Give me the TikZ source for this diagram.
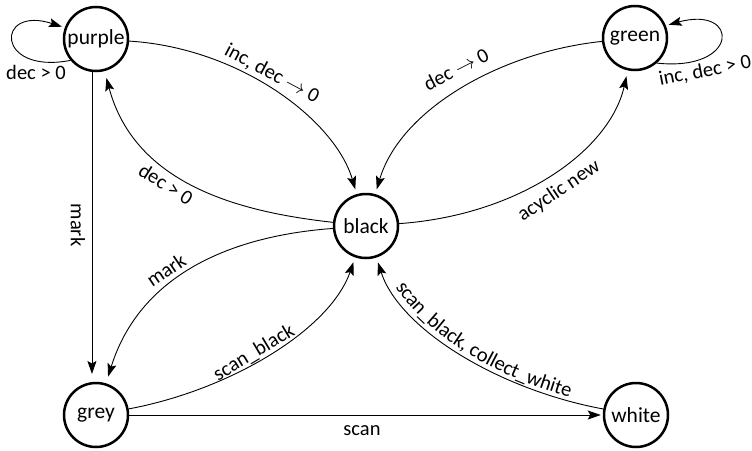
\documentclass[tikz,border=0pt]{standalone}
\usepackage{fontspec}
\setmainfont{Carlito}
\usetikzlibrary{arrows.meta,decorations.text}
\newcommand\nodefont{\fontsize{21.5}{25}\selectfont}
\newcommand\lblfont{\fontsize{20.5}{24}\selectfont}
\tikzset{
  mytip/.tip={Stealth[length=13pt,width=9pt,inset=2.5pt]},
  state/.style={circle,draw,line width=2.5pt,minimum size=64pt,inner sep=0pt,font=\nodefont},
  edge/.style={line width=0.9pt,-mytip,shorten >=5pt},
  redge/.style={line width=0.9pt,mytip-,shorten <=5pt},
  lbl/.style={font=\lblfont,inner sep=0pt}
}
\begin{document}
\begin{tikzpicture}[x=1pt,y=-1pt]
\useasboundingbox (0,0) rectangle (752,450);
\node[state] (purple) at (96,39) {purple};
\node[state] (green) at (635,38) {green};
\node[state] (black) at (366,226) {black};
\node[state] (grey) at (96,415) {grey};
\node[state] (white) at (636,415) {white};

% self loops
\draw[edge,shorten >=3pt] (purple.-140) .. controls (-5,75) and (-5,5) .. (purple.160);
\draw[edge,shorten >=3pt] (green.-49) .. controls (740,72) and (740,5) .. (green.22);

% curved edges
\draw[edge] (purple) .. controls (240,48) and (335,120) .. (black);
\draw[edge,shorten >=7pt] (black) .. controls (240,212) and (135,185) .. (purple);
\draw[edge] (green) .. controls (500,52) and (400,110) .. (black);
\draw[edge,shorten >=6pt] (black) .. controls (520,215) and (610,150) .. (green);
\draw[edge,shorten >=7pt] (black) .. controls (230,236) and (140,275) .. (grey);
\draw[edge] (grey) .. controls (230,390) and (330,330) .. (black);
\draw[redge,postaction={decorate},
  decoration={text along path,text align=center,raise=4pt,
  text={|\lblfont|scan{\_}black, collect{\_}white}}]
  (black) .. controls (400,330) and (500,390) .. (white);

% straight edges
\draw[edge,shorten >=8pt] (purple.263) -- (grey.97);
\draw[edge,shorten >=2pt] (grey) -- (white);

% labels
\node[lbl] (l1) at (36,72) {dec > 0};
\node[lbl,rotate=11] (l2) at (705,71) {inc, dec > 0};
\node[lbl,rotate=-28] (l3) at (272,74) {inc, dec $\rightarrow$ 0};
\node[lbl,rotate=-32] (l4) at (166,184) {dec > 0};
\node[lbl,rotate=27] (l5) at (456,69) {dec $\rightarrow$ 0};
\node[lbl,rotate=34] (l6) at (559,191) {acyclic new};
\node[lbl,rotate=-90] (l7) at (78,225) {mark};
\node[lbl,rotate=34] (l8) at (166,270) {mark};
\node[lbl,rotate=31] (l9) at (254,353) {scan\_black};
\node[lbl] (l10) at (362,431) {scan};
\end{tikzpicture}
\end{document}
